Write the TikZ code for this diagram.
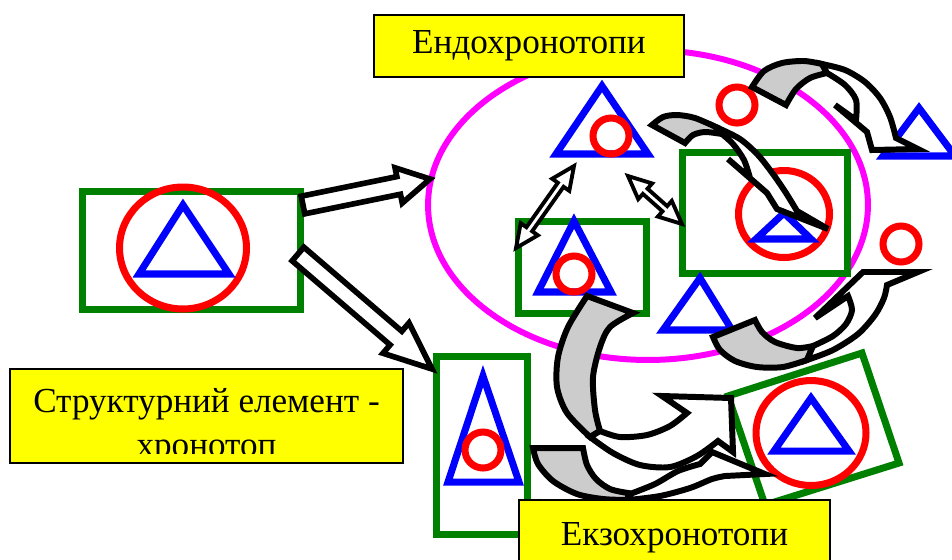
\documentclass[tikz,border=0pt]{standalone}
\usepackage{fontspec}
\setmainfont{Liberation Serif}
\usepackage{tikz}
\usetikzlibrary{calc}
\definecolor{pgreen}{RGB}{0,128,0}
\definecolor{pred}{RGB}{255,0,0}
\definecolor{pblue}{RGB}{0,0,255}
\definecolor{pmagenta}{RGB}{255,0,255}
\definecolor{pyellow}{RGB}{255,255,0}
\definecolor{pgray}{RGB}{204,204,204}
% block arrow: style, tail, tip, shaft half width, head half width, head length
\newcommand{\singlearr}[6]{%
  \draw[#1] ($(#2)!#4!90:(#3)$) -- ($(#3)!#6!(#2)!#4!-90:(#2)$) -- ($(#3)!#6!(#2)!#5!-90:(#2)$) -- (#3)
    -- ($(#3)!#6!(#2)!#5!90:(#2)$) -- ($(#3)!#6!(#2)!#4!90:(#2)$) -- ($(#2)!#4!-90:(#3)$) -- cycle;}
% block arrow with two heads
\newcommand{\doublearr}[6]{%
  \draw[#1] (#2) -- ($(#2)!#6!(#3)!#5!90:(#3)$) -- ($(#2)!#6!(#3)!#4!90:(#3)$)
    -- ($(#3)!#6!(#2)!#4!-90:(#2)$) -- ($(#3)!#6!(#2)!#5!-90:(#2)$) -- (#3)
    -- ($(#3)!#6!(#2)!#5!90:(#2)$) -- ($(#3)!#6!(#2)!#4!90:(#2)$)
    -- ($(#2)!#6!(#3)!#4!-90:(#3)$) -- ($(#2)!#6!(#3)!#5!-90:(#3)$) -- cycle;}

\begin{document}
\begin{tikzpicture}[x=0.02cm,y=-0.02cm]
  \tikzstyle{greenframe}=[draw=pgreen,line width=4pt]
  \tikzstyle{redring}=[draw=pred,line width=4pt]
  \tikzstyle{bluetri}=[draw=pblue,line width=4pt]
  \tikzstyle{yellowbox}=[draw=black,fill=pyellow,line width=0.8pt,inner sep=0pt,font=\fontsize{20}{24.5}\selectfont]
  \tikzstyle{blockarr}=[draw=black,fill=white,line width=3.2pt]
  \tikzstyle{thinarr}=[draw=black,fill=white,line width=2.2pt]
  \tikzstyle{ribbonback}=[draw=black,fill=pgray,line width=3.4pt]
  \tikzstyle{ribbonfront}=[draw=black,fill=white,line width=3.4pt]
  \useasboundingbox (0,0) rectangle (952,559);
  \clip (0,0) rectangle (952,559);

  % endochronotopes
  \draw[draw=pmagenta,line width=3.4pt] (648,205) ellipse [x radius=4.4cm,y radius=3.1cm];
  \node[yellowbox,minimum width=6.2cm,minimum height=1.24cm] (endo) at (529,46) {Ендохронотопи};

  % structural element
  \draw[greenframe] (82.5,191.5) rectangle (300.5,309.5);
  \draw[redring] (183,248) ellipse [x radius=1.27cm,y radius=1.22cm];
  \draw[bluetri] (139,274) -- (183,205) -- (229,274) -- cycle;

  \draw[greenframe] (518.5,221.5) rectangle (646.5,313.5);
  \draw[bluetri] (538,292) -- (574,221) -- (611,292) -- cycle;
  \draw[redring] (574,274) circle [radius=0.36cm];

  \draw[bluetri] (556,154) -- (602,86) -- (648,154) -- cycle;
  \draw[redring] (611,136) circle [radius=0.36cm];

  \draw[greenframe] (682.5,152.5) rectangle (847.5,273.5);
  \draw[redring] (784,214) ellipse [x radius=0.91cm,y radius=0.87cm];
  \draw[bluetri] (756,239) -- (784,213) -- (811,239) -- cycle;

  \draw[redring] (737,105) circle [radius=0.36cm];
  \draw[bluetri] (883,156) -- (919,108) -- (955,156) -- cycle;
  \draw[bluetri] (663,330) -- (700,278) -- (732,330) -- cycle;
  \draw[redring] (901,244) circle [radius=0.36cm];

  % exochronotopes
  \draw[greenframe] (436.5,356.5) rectangle (527.5,534.5);
  \draw[bluetri] (448,482) -- (483,376) -- (519,482) -- cycle;
  \draw[redring] (483,450) circle [radius=0.36cm];

  \draw[greenframe] (728,396) -- (862,353) -- (899,463) -- (765,505) -- cycle;
  \draw[redring] (811,433) ellipse [x radius=1.1cm,y radius=1.05cm];
  \draw[bluetri] (774,451) -- (811,398) -- (849,451) -- cycle;

  % arrows
  \coordinate (elem out1) at (303,205);
  \coordinate (ell in) at (430,179);
  \coordinate (elem out2) at (298,254);
  \coordinate (tall in) at (432,369);
  \coordinate (box end) at (516,248);
  \coordinate (top end1) at (574,166);
  \coordinate (top end2) at (628,176);
  \coordinate (frame end) at (682,224);
  \singlearr{blockarr}{elem out1}{ell in}{0.18cm}{0.36cm}{0.64cm}
  \singlearr{blockarr}{elem out2}{tall in}{0.18cm}{0.4cm}{0.95cm}
  \doublearr{thinarr}{box end}{top end1}{0.07cm}{0.21cm}{0.46cm}
  \doublearr{thinarr}{top end2}{frame end}{0.07cm}{0.21cm}{0.46cm}

  % curved arrows
  \filldraw[ribbonback] plot[smooth] coordinates {(752,87) (764,71) (782,63) (804,61) (822,64)}
    -- plot[smooth] coordinates {(827,73) (810,78) (796,89) (786,105)} -- cycle;
  \filldraw[ribbonfront] plot[smooth] coordinates {(822,64) (845,70) (865,82) (880,98) (890,117) (896,138)}
    -- (918,149) -- (872,150) -- (867,132) -- (835,105)
    -- plot[smooth] coordinates {(856,120) (856,100) (845,85) (827,73)} -- cycle;

  \filldraw[ribbonback] plot[smooth] coordinates {(652,125) (663,117) (677,115) (695,118) (718,128)}
    -- plot[smooth] coordinates {(722,134) (705,132) (693,135) (685,143)} -- cycle;
  \filldraw[ribbonfront] plot[smooth] coordinates {(718,128) (740,139) (758,155) (773,174) (786,193) (797,211)}
    -- (828,229) -- (777,209) -- (767,193) -- (728,159)
    -- plot[smooth] coordinates {(750,178) (744,160) (733,144) (722,134)} -- cycle;

  \filldraw[ribbonback] plot[smooth] coordinates {(713,337) (720,350) (735,361) (757,367) (783,367) (807,360)}
    -- plot[smooth] coordinates {(813,346) (797,348) (775,342) (762,332) (755,320)} -- cycle;
  \filldraw[ribbonfront] plot[smooth] coordinates {(807,360) (833,350) (858,334) (875,315) (884,298) (887,285)}
    -- (918,272) -- (863,272) -- (815,318)
    -- plot[smooth] coordinates {(848,296) (852,310) (846,324) (833,336) (813,346)} -- cycle;

  \filldraw[ribbonback] plot[smooth] coordinates {(587,296) (568,327) (558,357) (557,387) (567,413) (590,437)}
    -- plot[smooth] coordinates {(600,431) (595,410) (593,377) (600,347) (610,327) (633,313)} -- cycle;
  \filldraw[ribbonfront] plot[smooth] coordinates {(590,437) (613,453) (640,465) (670,467) (697,456) (718,441)}
    -- (733,452) -- (731,398) -- (662,396)
    -- plot[smooth] coordinates {(687,413) (670,426) (647,435) (620,437) (600,431)} -- cycle;

  \filldraw[ribbonback] plot[smooth] coordinates {(533,448) (538,464) (553,481) (577,494) (603,499) (628,500)}
    -- plot[smooth] coordinates {(628,493) (610,489) (596,479) (587,465) (583,448)} -- cycle;
  \filldraw[ribbonfront] plot[smooth] coordinates {(628,500) (660,496) (690,488) (712,479) (725,476)}
    -- (765,474) -- (712,452)
    -- plot[smooth] coordinates {(700,464) (678,471) (655,484) (630,494)} -- cycle;

  % labels
  \node[yellowbox,minimum width=7.86cm,minimum height=1.88cm] (elem) at (206.5,416) {};
  \begin{scope}
    \clip (10,369) rectangle (403,453);
    \node[anchor=base,align=center,inner sep=0pt,font=\fontsize{20}{24.5}\selectfont] (elem text) at (206.5,456) {Структурний елемент -\\хронотоп};
  \end{scope}
  \node[yellowbox,minimum width=6.22cm,minimum height=1.52cm] (exo) at (674.5,538) {Екзохронотопи};
\end{tikzpicture}
\end{document}
